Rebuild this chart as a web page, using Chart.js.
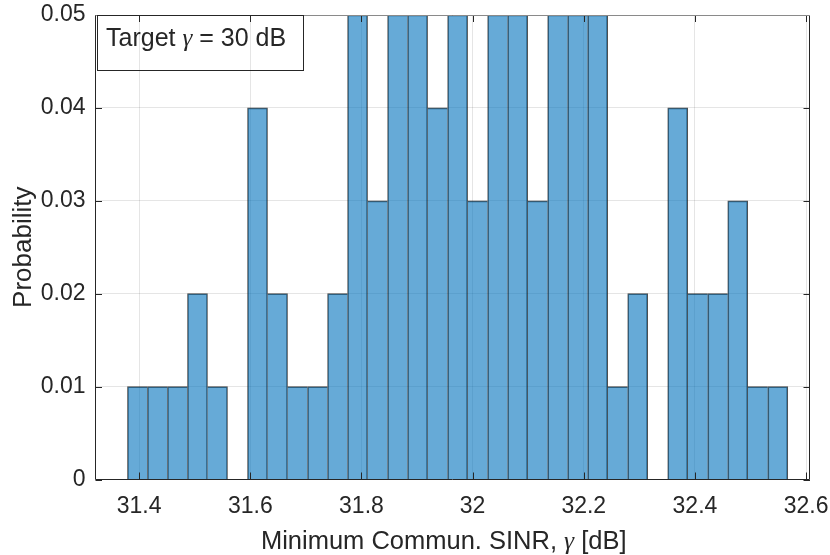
<!DOCTYPE html>
<html>
<head>
<meta charset="utf-8">
<script src="https://cdn.jsdelivr.net/npm/chart.js@4.4.1/dist/chart.umd.min.js"></script>
<style>
  html, body { margin: 0; padding: 0; background: #fff; }
  canvas { display: block; }
</style>
</head>
<body>
<canvas id="hist" width="830" height="555"></canvas>
<script>
// bin centres [dB], bin width 0.036
let binCenters = [31.397, 31.433, 31.469, 31.505, 31.541, 31.577, 31.613, 31.649, 31.685, 31.721, 31.757,
                  31.793, 31.829, 31.865, 31.901, 31.937, 31.973, 32.009, 32.045, 32.081, 32.117, 32.153,
                  32.189, 32.225, 32.261, 32.297, 32.333, 32.369, 32.405, 32.441, 32.477, 32.513, 32.549];
// probability per bin
let probs = [0.01, 0.01, 0.01, 0.02, 0.01, 0, 0.04, 0.02, 0.01, 0.01, 0.02,
             0.05, 0.03, 0.05, 0.05, 0.04, 0.05, 0.03, 0.05, 0.05, 0.03, 0.05,
             0.05, 0.05, 0.01, 0.02, 0, 0.04, 0.02, 0.02, 0.03, 0.01, 0.01];
let xTicks = [31.4, 31.6, 31.8, 32.0, 32.2, 32.4, 32.6];
let yTicks = [0, 0.01, 0.02, 0.03, 0.04, 0.05];
let xRange = [31.3215, 32.607];
let yRange = [0, 0.05];
let xLabel = ["Minimum Commun. SINR, ", "\u03b3", " [dB]"];
let yLabel = "Probability";
let boxLabel = ["Target ", "\u03b3", " = 30 dB"];

const SANS = "'Liberation Sans', Arial, Helvetica, sans-serif";
const SERIF = "'Liberation Serif', 'Times New Roman', serif";
const INK = '#262626';
const GRID = 'rgba(38,38,38,0.12)';

// each shared edge is drawn once, by the taller of the two bars
function edgeWidth(c) {
    let i = c.dataIndex;
    let v = probs[i];
    let prev = i > 0 ? probs[i - 1] : 0;
    let next = i < probs.length - 1 ? probs[i + 1] : 0;
    return {top: 1, bottom: 0, left: prev <= v ? 1 : 0, right: next < v ? 1 : 0};
}

// draws pieces of text one after another, γ in italic serif
function partFont(k, size) {
    return k === 1 ? 'italic ' + size + 'px ' + SERIF : size + 'px ' + SANS;
}
function drawMixed(ctx, parts, x, y, size) {
    parts.forEach((p, k) => {
        ctx.font = partFont(k, size);
        ctx.fillText(p, x, y);
        x += ctx.measureText(p).width;
    });
}
function mixedWidth(ctx, parts, size) {
    let w = 0;
    parts.forEach((p, k) => {
        ctx.font = partFont(k, size);
        w += ctx.measureText(p).width;
    });
    return w;
}

// no extra room for overhanging tick labels, the layout padding covers it
function noPad(s) {
    s.paddingTop = 0; s.paddingBottom = 0;
    s.paddingLeft = 0; s.paddingRight = 0;
}

// MATLAB-like box, inward ticks, text box and x label
const axesBox = {
    id: 'axesBox',
    afterDatasetsDraw(chart) {
        const {ctx, chartArea: a, scales: {x, y}} = chart;
        ctx.save();
        ctx.lineWidth = 1;
        ctx.strokeStyle = INK;
        ctx.beginPath();
        xTicks.forEach(v => {
            let px = Math.round(x.getPixelForValue(v)) + 0.5;
            ctx.moveTo(px, a.bottom); ctx.lineTo(px, a.bottom - 7);
            ctx.moveTo(px, a.top); ctx.lineTo(px, a.top + 7);
        });
        yTicks.forEach(v => {
            let py = Math.round(y.getPixelForValue(v)) + 0.5;
            ctx.moveTo(a.left, py); ctx.lineTo(a.left + 6.5, py);
            ctx.moveTo(a.right, py); ctx.lineTo(a.right - 6.5, py);
        });
        ctx.stroke();

        // frame
        ctx.beginPath();
        ctx.moveTo(a.left, a.top);
        ctx.lineTo(a.left, a.bottom);
        ctx.lineTo(a.right - 0.5, a.bottom);
        ctx.lineTo(a.right - 0.5, a.top);
        ctx.stroke();
        ctx.strokeStyle = '#8a8a8a';
        ctx.beginPath();
        ctx.moveTo(a.left, a.top + 0.5);
        ctx.lineTo(a.right, a.top + 0.5);
        ctx.stroke();

        // text box
        ctx.strokeStyle = INK;
        ctx.strokeRect(a.left + 2, a.top + 0.5, 206, 55);
        ctx.fillStyle = INK;
        ctx.textBaseline = 'alphabetic';
        ctx.textAlign = 'left';
        drawMixed(ctx, boxLabel, a.left + 10.5, a.top + 31, 25);

        // x label
        let w = mixedWidth(ctx, xLabel, 25.5);
        let cx = (a.left + a.right) / 2 - 9;
        drawMixed(ctx, xLabel, cx - w / 2, 549, 25.5);
        ctx.restore();
    }
};

new Chart(document.getElementById('hist'), {
    type: 'bar',
    data: {
        datasets: [{
            data: binCenters.map((c, i) => ({x: c, y: probs[i]})),
            backgroundColor: 'rgba(0,114,189,0.6)',
            borderColor: 'rgba(20,20,20,0.75)',
            borderWidth: edgeWidth,
            borderSkipped: false,
            barPercentage: 1,
            categoryPercentage: 1
        }]
    },
    options: {
        responsive: false,
        animation: false,
        devicePixelRatio: 1,
        layout: {padding: {top: 15, right: 20, left: 0, bottom: 0}},
        plugins: {legend: {display: false}, tooltip: {enabled: false}},
        scales: {
            x: {
                type: 'linear',
                min: xRange[0],
                max: xRange[1],
                offset: false,
                afterBuildTicks: s => { s.ticks = xTicks.map(v => ({value: v})); },
                afterFit: s => { s.height = 75.5; noPad(s); },
                grid: {color: GRID, drawTicks: false, offset: false},
                border: {display: false},
                ticks: {
                    padding: 13, color: INK, autoSkip: false, maxRotation: 0,
                    font: {family: SANS, size: 23},
                    callback: v => String(+v.toFixed(1))
                }
            },
            y: {
                min: yRange[0],
                max: yRange[1],
                afterBuildTicks: s => { s.ticks = yTicks.map(v => ({value: v})); },
                afterFit: s => { s.width = 95.5; noPad(s); },
                grid: {color: GRID, drawTicks: false},
                border: {display: false},
                ticks: {
                    padding: 10, color: INK,
                    font: {family: SANS, size: 23},
                    callback: v => v === 0 ? '0' : v.toFixed(2)
                },
                title: {
                    display: true, text: yLabel, color: INK,
                    font: {family: SANS, size: 26},
                    padding: {top: 8, bottom: 0}
                }
            }
        }
    },
    plugins: [axesBox]
});
</script>
</body>
</html>
